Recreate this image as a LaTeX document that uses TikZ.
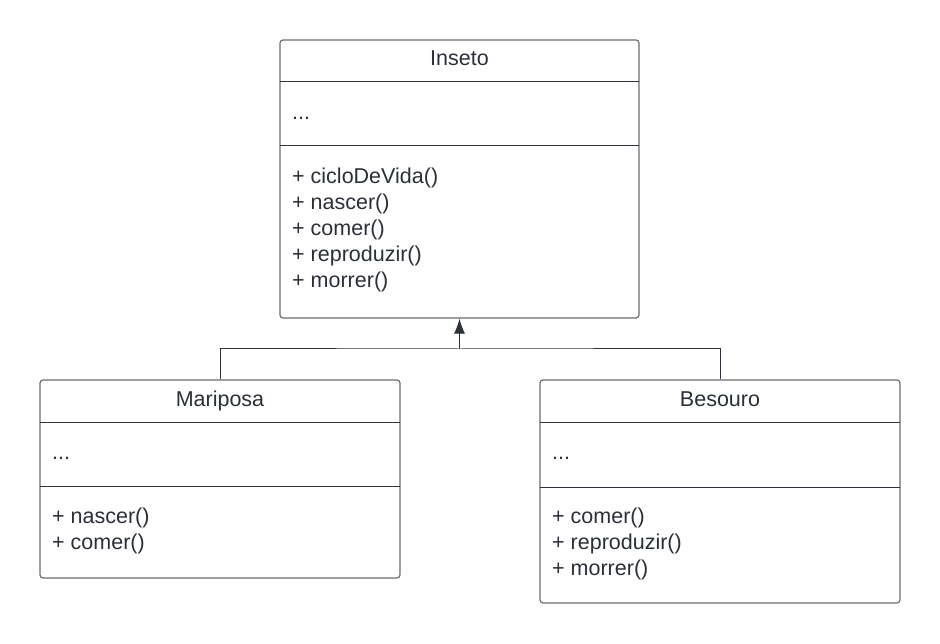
\documentclass[tikz,border=0pt]{standalone}
\usepackage{fontspec}
\setmainfont{Liberation Sans}
\usetikzlibrary{arrows.meta}
\definecolor{txt}{HTML}{2B3038}
\definecolor{outl}{HTML}{6A6D72}
\definecolor{divc}{HTML}{2D333B}
\begin{document}
\begin{tikzpicture}[x=1pt,y=-1pt,
  classbox/.style={draw=outl,line width=1.2pt,rounded corners=3pt,fill=white,inner sep=0pt},
  divider/.style={draw=divc,line width=1pt},
  conn/.style={draw=divc,line width=1pt},
  lbl/.style={text=txt,font=\fontsize{21.5}{26}\selectfont,inner sep=0pt},
]
\useasboundingbox[fill=white] (0,0) rectangle (940,644);
% boxes
\node[classbox,minimum width=359pt,minimum height=278pt] (inseto) at (459.5,179) {};
\node[classbox,minimum width=360pt,minimum height=198pt] (mariposa) at (220,479) {};
\node[classbox,minimum width=360pt,minimum height=223pt] (besouro) at (720,491.5) {};
% dividers
\draw[divider] (280,82) -- (639,82);
\draw[divider] (280,146) -- (639,146);
\draw[divider] (40,422) -- (400,422);
\draw[divider] (40,486) -- (400,486);
\draw[divider] (540,422) -- (900,422);
\draw[divider] (540,487) -- (900,487);
% texts Inseto
\node[lbl,anchor=base] (tIns) at (459.5,66) {Inseto};
\node[lbl,anchor=base west] (aIns) at (292,120) {...};
\node[lbl,anchor=base west] (m1) at (292,184) {+ cicloDeVida()};
\node[lbl,anchor=base west] (m2) at (292,210) {+ nascer()};
\node[lbl,anchor=base west] (m3) at (292,236) {+ comer()};
\node[lbl,anchor=base west] (m4) at (292,262) {+ reproduzir()};
\node[lbl,anchor=base west] (m5) at (292,288) {+ morrer()};
% Mariposa
\node[lbl,anchor=base] (tMar) at (220,406) {Mariposa};
\node[lbl,anchor=base west] (aMar) at (52,459) {...};
\node[lbl,anchor=base west] (p1) at (52,523) {+ nascer()};
\node[lbl,anchor=base west] (p2) at (52,549) {+ comer()};
% Besouro
\node[lbl,anchor=base] (tBes) at (720,406) {Besouro};
\node[lbl,anchor=base west] (aBes) at (552,459) {...};
\node[lbl,anchor=base west] (b1) at (552,523) {+ comer()};
\node[lbl,anchor=base west] (b2) at (552,549) {+ reproduzir()};
\node[lbl,anchor=base west] (b3) at (552,575) {+ morrer()};
% connectors
\coordinate (joint) at (459.5,349);
\draw[conn] (mariposa.north) |- (joint) -| (besouro.north);
\draw[conn,-{Latex[length=15pt,width=11pt]}] (joint) -- (inseto.south);
\end{tikzpicture}
\end{document}
